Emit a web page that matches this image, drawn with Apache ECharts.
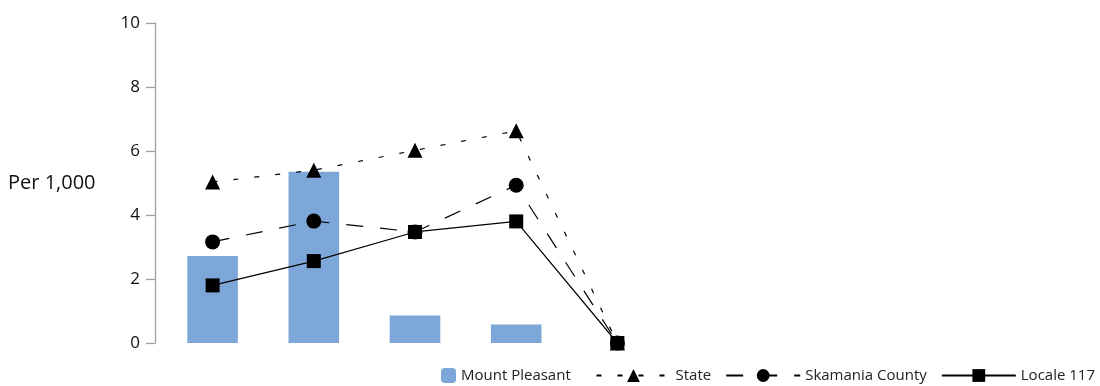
<!DOCTYPE html>
<html><head><meta charset="utf-8">
<script src="https://cdn.jsdelivr.net/npm/echarts@6/dist/echarts.min.js"></script>
<style>html,body{margin:0;padding:0;background:#fff}#c{width:1100px;height:386px}</style>
</head><body><div id="c"></div>
<script>
var categories = ['1', '2', '3', '4', '5'];
var mountPleasant = [2.72, 5.35, 0.86, 0.58, 0];
var state = [5.03, 5.4, 6.02, 6.63, 0];
var skamania = [3.16, 3.81, 3.47, 4.93, 0];
var locale117 = [1.8, 2.56, 3.47, 3.8, 0];
var yTicks = { min: 0, max: 10, interval: 2 };
var yName = 'Per 1,000';

var FONT = '"Open Sans", "Noto Sans", sans-serif';
var chart = echarts.init(document.getElementById('c'), null, { renderer: 'canvas' });
chart.setOption({
  animation: false,
  textStyle: { fontFamily: FONT },
  grid: { left: 162, right: 432, top: 23, bottom: 43, containLabel: false },
  graphic: [{
    type: 'text', left: 8, top: 173,
    style: { text: yName, fontSize: 20, fontFamily: FONT, fill: '#111' }
  }],
  legend: [{
    data: ['Mount Pleasant'],
    left: 436, bottom: -2,
    itemWidth: 15, itemHeight: 15, itemGap: 12,
    textStyle: { fontSize: 15, color: '#222', fontFamily: FONT }
  }, {
    data: ['State', 'Skamania County', 'Locale 117'],
    right: 0, bottom: -2,
    itemWidth: 74, itemHeight: 16, itemGap: 14,
    textStyle: { fontSize: 15, color: '#222', fontFamily: FONT }
  }],
  xAxis: {
    type: 'category', data: categories,
    axisLine: { show: false }, axisTick: { show: false }, axisLabel: { show: false },
    splitLine: { show: false }
  },
  yAxis: {
    type: 'value', min: yTicks.min, max: yTicks.max, interval: yTicks.interval,
    offset: 7,
    axisLine: { show: true, lineStyle: { color: '#a0a0a0', width: 1.3 } },
    axisTick: { show: true, length: 9, lineStyle: { color: '#a0a0a0', width: 1.3 } },
    axisLabel: { fontSize: 17, color: '#111', margin: 15, fontFamily: FONT },
    splitLine: { show: false }
  },
  series: [{
    name: 'Mount Pleasant', type: 'bar', data: mountPleasant,
    barWidth: '50%', itemStyle: { color: '#7da7d8' }
  }, {
    name: 'State', type: 'line', data: state,
    symbol: 'triangle', symbolSize: 15,
    lineStyle: { color: '#000', width: 1.2, type: [5, 16] },
    itemStyle: { color: '#000' }, z: 3
  }, {
    name: 'Skamania County', type: 'line', data: skamania,
    symbol: 'circle', symbolSize: 15,
    lineStyle: { color: '#000', width: 1.2, type: [17, 17] },
    itemStyle: { color: '#000' }, z: 4
  }, {
    name: 'Locale 117', type: 'line', data: locale117,
    symbol: 'rect', symbolSize: 14,
    lineStyle: { color: '#000', width: 1.2, type: 'solid' },
    itemStyle: { color: '#000' }, z: 5
  }]
});
</script></body></html>
